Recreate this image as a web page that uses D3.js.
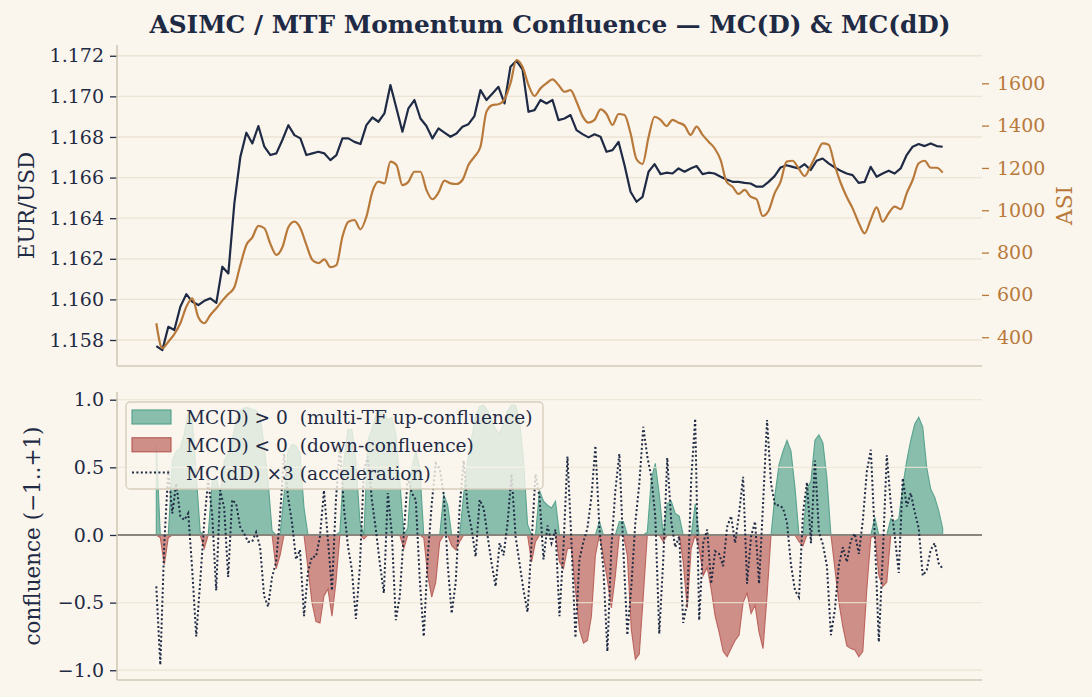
<!DOCTYPE html>
<html>
<head>
<meta charset="utf-8">
<title>ASIMC / MTF Momentum Confluence</title>
<script src="https://cdn.jsdelivr.net/npm/d3@7"></script>
<style>
  body { margin: 0; background: #faf6ee; }
  svg { display: block; font-family: "DejaVu Serif", serif; }
  .axis path.domain { display: none; }
</style>
</head>
<body>
<svg id="chart" width="1092" height="697"></svg>
<script>
// EUR/USD close (one value every ~6px)
const price = [
  1.15770, 1.15750, 1.15865, 1.15849, 1.15964, 1.16026, 1.15988, 1.15972, 1.15993, 1.16005, 1.15983,
  1.16161, 1.16128, 1.16473, 1.16702, 1.16821, 1.16768, 1.16854, 1.16752, 1.16711, 1.16719, 1.16785,
  1.16858, 1.16809, 1.16793, 1.16711, 1.16719, 1.16727, 1.16719, 1.16686, 1.16711, 1.16793, 1.16793,
  1.16776, 1.16765, 1.16858, 1.16896, 1.16875, 1.16916, 1.17056, 1.16941, 1.16826, 1.16941, 1.16982,
  1.16891, 1.16854, 1.16793, 1.16842, 1.16821, 1.16801, 1.16817, 1.16850, 1.16863, 1.16903, 1.17031,
  1.16982, 1.17014, 1.17047, 1.16965, 1.17146, 1.17175, 1.17133, 1.16924, 1.16932, 1.16982, 1.16965,
  1.16982, 1.16883, 1.16891, 1.16908, 1.16834, 1.16814, 1.16798, 1.16813, 1.16801, 1.16727, 1.16735,
  1.16776, 1.16661, 1.16530, 1.16481, 1.16505, 1.16629, 1.16666, 1.16617, 1.16624, 1.16620, 1.16645,
  1.16629, 1.16645, 1.16657, 1.16617, 1.16624, 1.16620, 1.16604, 1.16591, 1.16579, 1.16579, 1.16574,
  1.16571, 1.16555, 1.16555, 1.16579, 1.16607, 1.16650, 1.16661, 1.16653, 1.16645, 1.16666, 1.16637,
  1.16683, 1.16694, 1.16670, 1.16650, 1.16634, 1.16620, 1.16612, 1.16574, 1.16579, 1.16653, 1.16604,
  1.16620, 1.16634, 1.16620, 1.16645, 1.16711, 1.16752, 1.16765, 1.16755, 1.16768, 1.16755, 1.16752
];

// ASI (right axis), same sampling as price
const asi = [
  466, 348, 379, 415, 466, 544, 584, 494, 466, 505, 537, 573, 604, 636, 741, 836, 872, 926, 915, 841,
  789, 825, 920, 946, 915, 836, 765, 750, 768, 731, 741, 875, 946,
  954, 910, 970, 1088, 1135, 1127, 1230, 1214, 1119, 1135, 1182, 1182, 1096, 1052, 1083, 1140, 1127,
  1124, 1143, 1214, 1253, 1300, 1466, 1497, 1501, 1524, 1600, 1710, 1678, 1592, 1540, 1576, 1600,
  1619, 1592, 1560, 1568, 1513, 1445, 1414, 1427, 1477, 1455, 1403, 1455, 1450, 1364, 1241, 1219,
  1345, 1442, 1427, 1398, 1427, 1414, 1400, 1356, 1395, 1356, 1324, 1293, 1238, 1135, 1111, 1077,
  1096, 1064,
  1052, 973, 998, 1080, 1135, 1230, 1234, 1198, 1162, 1209, 1266, 1316, 1310, 1214, 1130, 1064, 1009,
  941, 891, 954, 1014, 946, 986, 1017, 1005, 1080, 1143, 1222, 1234, 1201, 1201, 1178
];

// MC(D) confluence, one value every ~4px
const mcD = [
  0.66, -0.02, -0.22, -0.02, 0.55, 0.62, 0.64, 0.75, 0.91, 0.85, 0.45, 0.02, -0.10, 0.00, 0.40, 0.43,
  0.30, 0.55, 0.60, 0.70, 0.85, 0.92, 0.94, 0.94, 0.93, 0.92, 0.88, 0.66, 0.40, 0.03, -0.25, -0.15,
  0.30, 0.62, 0.67, 0.66, 0.60, 0.20, -0.25, -0.50, -0.64, -0.65, -0.45, -0.40, -0.60, -0.35, 0.02,
  0.55, 0.78, 0.78, 0.55, 0.10, -0.03, 0.70, 0.78, 0.88, 0.92, 0.90, 0.85, 0.87, 0.75, 0.40, -0.10,
  0.05, 0.50, 0.62, 0.50, -0.02, -0.30, -0.46, -0.35, -0.05, 0.30, 0.22, -0.08, -0.11, -0.05, 0.30,
  0.55, 0.72, 0.88, 0.95, 0.96, 0.92, 0.85, 0.78, 0.75, 0.82, 0.92, 0.96, 0.96, 0.85, 0.55, 0.08,
  -0.20, -0.05, 0.33, 0.25, 0.22, 0.20, 0.25, -0.20, -0.25, -0.10, -0.10, -0.40, -0.70, -0.80, -0.78,
  -0.60, -0.15, 0.10, -0.16, -0.33, -0.54, -0.30, 0.10, 0.10, -0.15, -0.70, -0.92, -0.88, -0.45, 0.02,
  0.41, 0.53, 0.30, -0.05, 0.23, 0.25, 0.16, 0.14, -0.20, -0.54, -0.10, 0.23, -0.10, -0.30, -0.24,
  -0.40, -0.60, -0.72, -0.86, -0.90, -0.84, -0.78, -0.74, -0.50, -0.43, -0.58, -0.52, -0.72, -0.84,
  -0.45, 0.00, 0.30, 0.52, 0.62, 0.70, 0.62, 0.35, -0.05, -0.08, 0.34, 0.40, 0.70, 0.74, 0.68, 0.42,
  0.00, -0.25, -0.50, -0.68, -0.82, -0.84, -0.85, -0.90, -0.86, -0.40, -0.02, 0.13, -0.30, -0.38,
  -0.35, 0.12, 0.10, 0.12, 0.36, 0.55, 0.70, 0.82, 0.87, 0.80, 0.50, 0.34, 0.28, 0.18, 0.05
];

// MC(dD) x3 acceleration, same sampling as MC(D)
const mcdD = [
  -0.38, -0.96, -0.06, 0.48, 0.16, 0.38, 0.14, 0.11, 0.16, -0.26, -0.75, -0.34, 0.09, 0.41, 0.15,
  -0.41, 0.33, 0.20, -0.31, 0.26, 0.23, 0.06, 0.01, -0.05, -0.05, 0.02, -0.09, -0.45, -0.53, -0.31,
  -0.20, 0.14, 0.60, 0.28, 0.09, -0.18, -0.11, -0.60, -0.27, -0.16, -0.16, -0.01, 0.33, -0.04, -0.41,
  0.26, 0.66, 0.20, -0.08, -0.26, -0.62, -0.23, 0.48, 0.58, 0.26, 0.04, -0.21, -0.43, 0.31, 0.01,
  -0.63, -0.45, 0.01, 0.43, 0.31, 0.26, -0.33, -0.75, -0.16, 0.23, 0.53, 0.49, 0.30, -0.22, -0.58,
  -0.35, 0.21, 0.55, 0.20, 0.04, -0.16, 0.26, 0.20, -0.01, -0.21, -0.38, -0.06, -0.15, 0.09, 0.45,
  -0.01, -0.21, -0.41, -0.57, -0.06, 0.45, 0.28, -0.18, 0.07, -0.06, 0.04, -0.60, -0.09, 0.58, -0.05,
  -0.76, -0.18, -0.05, 0.05, 0.28, 0.66, 0.05, -0.25, -0.86, -0.09, 0.33, 0.60, -0.11, -0.74, -0.38,
  0.09, 0.38, 0.80, 0.58, 0.43, 0.14, -0.73, -0.18, 0.57, 0.10, -0.09, -0.01, -0.65, -0.50, 0.41,
  0.86, -0.63, -0.06, 0.04, -0.36, -0.12, -0.14, -0.23, 0.06, 0.14, -0.06, 0.16, 0.43, -0.36, -0.01,
  0.10, -0.36, 0.23, 0.85, 0.38, 0.22, 0.22, 0.20, 0.09, -0.22, -0.41, -0.46, 0.16, 0.39, -0.06, 0.55,
  0.02, -0.07, -0.23, -0.74, -0.55, -0.22, -0.09, -0.20, -0.04, 0.01, -0.14, 0.11, 0.47, 0.63, -0.01,
  -0.79, -0.14, 0.59, 0.23, -0.01, -0.28, 0.42, 0.21, 0.31, 0.17, 0.05, -0.30, -0.26, -0.11, -0.06,
  -0.21, -0.25
];

// tick labels
const priceTicks = [1.158, 1.160, 1.162, 1.164, 1.166, 1.168, 1.170, 1.172];
const asiTicks = [400, 600, 800, 1000, 1200, 1400, 1600];
const mcTicks = [-1.0, -0.5, 0.0, 0.5, 1.0];

const legendItems = [
  ["area", "pos", "MC(D) > 0  (multi-TF up-confluence)"],
  ["area", "neg", "MC(D) < 0  (down-confluence)"],
  ["line", "dd", "MC(dD) \u00d73 (acceleration)"]
];

// colours
const bg = "#faf6ee";
const navy = "#1f2a44";
const orange = "#b8793a";
const gridCol = "#ece4d4";
const spineCol = "#d2c8b6";
const teal = "#4f9f8a";
const red = "#b5554f";

const svg = d3.select("#chart");
svg.append("rect").attr("width", 1092).attr("height", 697).attr("fill", bg);

// panel boxes
const left = 117, right = 982;
const top1 = { top: 45, bottom: 366 };
const top2 = { top: 392, bottom: 680 };

// title
svg.append("text")
  .attr("x", (left + right) / 2 + 0.5)
  .attr("y", 33)
  .attr("text-anchor", "middle")
  .attr("font-size", 24.8)
  .attr("font-weight", "bold")
  .attr("fill", navy)
  .text("ASIMC / MTF Momentum Confluence \u2014 MC(D) & MC(dD)");

// x scales with matplotlib-like 5% margins
function xScale(n) {
  const pad = (n - 1) * 0.05;
  return d3.scaleLinear().domain([-pad, n - 1 + pad]).range([left, right]);
}
const xTop = xScale(price.length);
const xBot = xScale(mcD.length);

// ---------- top panel ----------
const yPrice = d3.scaleLinear().domain([1.15672, 1.17253]).range([top1.bottom, top1.top]);
const yAsi = d3.scaleLinear().domain([264, 1781]).range([top1.bottom, top1.top]);

const g1 = svg.append("g");
g1.selectAll(".grid")
  .data(priceTicks)
  .join("line")
    .attr("x1", left).attr("x2", right)
    .attr("y1", d => yPrice(d)).attr("y2", d => yPrice(d))
    .attr("stroke", gridCol).attr("stroke-width", 1.3);

g1.append("path")
  .datum(price)
  .attr("fill", "none")
  .attr("stroke", navy)
  .attr("stroke-width", 2.2)
  .attr("stroke-linejoin", "round")
  .attr("d", d3.line().x((d, i) => xTop(i)).y(d => yPrice(d)));

g1.append("path")
  .datum(asi)
  .attr("fill", "none")
  .attr("stroke", orange)
  .attr("stroke-width", 2.2)
  .attr("stroke-linejoin", "round")
  .attr("d", d3.line().x((d, i) => xTop(i)).y(d => yAsi(d)).curve(d3.curveMonotoneX));

g1.append("g")
  .attr("class", "axis")
  .attr("transform", "translate(" + left + ",0)")
  .call(d3.axisLeft(yPrice).tickValues(priceTicks).tickFormat(d3.format(".3f")).tickSize(7).tickPadding(6))
  .call(g => g.selectAll("line").attr("stroke", navy).attr("stroke-width", 1.3))
  .call(g => g.selectAll("text").attr("fill", navy).attr("font-size", 19).attr("font-family", "DejaVu Serif"));

g1.append("g")
  .attr("class", "axis")
  .attr("transform", "translate(" + right + ",0)")
  .call(d3.axisRight(yAsi).tickValues(asiTicks).tickFormat(d3.format("d")).tickSize(7).tickPadding(8))
  .call(g => g.selectAll("line").attr("stroke", orange).attr("stroke-width", 1.3))
  .call(g => g.selectAll("text").attr("fill", orange).attr("font-size", 19).attr("font-family", "DejaVu Serif"));

g1.append("line").attr("x1", left).attr("x2", left).attr("y1", top1.top).attr("y2", top1.bottom)
  .attr("stroke", spineCol).attr("stroke-width", 1.6);
g1.append("line").attr("x1", left).attr("x2", right).attr("y1", top1.bottom).attr("y2", top1.bottom)
  .attr("stroke", spineCol).attr("stroke-width", 1.6);

g1.append("text")
  .attr("transform", "translate(26," + (top1.top + top1.bottom) / 2 + ") rotate(-90)")
  .attr("text-anchor", "middle")
  .attr("dominant-baseline", "central")
  .attr("font-size", 21.5)
  .attr("fill", navy)
  .text("EUR/USD");

g1.append("text")
  .attr("transform", "translate(1064," + (top1.top + top1.bottom) / 2 + ") rotate(-90)")
  .attr("text-anchor", "middle")
  .attr("dominant-baseline", "central")
  .attr("font-size", 21.5)
  .attr("fill", orange)
  .text("ASI");

// ---------- bottom panel ----------
const yMc = d3.scaleLinear().domain([-1.072, 1.057]).range([top2.bottom, top2.top]);
const g2 = svg.append("g");

const posArea = d3.area().x((d, i) => xBot(i)).y0(yMc(0)).y1(d => yMc(Math.max(d, 0)));
const negArea = d3.area().x((d, i) => xBot(i)).y0(yMc(0)).y1(d => yMc(Math.min(d, 0)));

g2.append("path").datum(mcD).attr("d", posArea)
  .attr("fill", teal).attr("fill-opacity", 0.66)
  .attr("stroke", teal).attr("stroke-opacity", 0.9).attr("stroke-width", 1.1);
g2.append("path").datum(mcD).attr("d", negArea)
  .attr("fill", red).attr("fill-opacity", 0.64)
  .attr("stroke", red).attr("stroke-opacity", 0.85).attr("stroke-width", 1.1);

g2.selectAll(".grid")
  .data(mcTicks.filter(d => d !== 0))
  .join("line")
    .attr("x1", left).attr("x2", right)
    .attr("y1", d => yMc(d)).attr("y2", d => yMc(d))
    .attr("stroke", gridCol).attr("stroke-width", 1.3).attr("stroke-opacity", 0.85);

g2.append("line")
  .attr("x1", left).attr("x2", right)
  .attr("y1", yMc(0)).attr("y2", yMc(0))
  .attr("stroke", "#8b867d").attr("stroke-width", 2);

g2.append("path")
  .datum(mcdD)
  .attr("fill", "none")
  .attr("stroke", navy)
  .attr("stroke-width", 2)
  .attr("stroke-dasharray", "2,2.4")
  .attr("d", d3.line().x((d, i) => xBot(i)).y(d => yMc(d)));

g2.append("g")
  .attr("class", "axis")
  .attr("transform", "translate(" + left + ",0)")
  .call(d3.axisLeft(yMc).tickValues(mcTicks).tickFormat(d3.format(".1f")).tickSize(7).tickPadding(6))
  .call(g => g.selectAll("line").attr("stroke", navy).attr("stroke-width", 1.3))
  .call(g => g.selectAll("text").attr("fill", navy).attr("font-size", 19).attr("font-family", "DejaVu Serif"));

g2.append("line").attr("x1", left).attr("x2", left).attr("y1", top2.top).attr("y2", top2.bottom)
  .attr("stroke", spineCol).attr("stroke-width", 1.6);
g2.append("line").attr("x1", left).attr("x2", right).attr("y1", top2.bottom).attr("y2", top2.bottom)
  .attr("stroke", spineCol).attr("stroke-width", 1.6);

g2.append("text")
  .attr("transform", "translate(32," + (top2.top + top2.bottom) / 2 + ") rotate(-90)")
  .attr("text-anchor", "middle")
  .attr("dominant-baseline", "central")
  .attr("font-size", 21.5)
  .attr("fill", navy)
  .text("confluence (\u22121..+1)");

// legend
const legend = g2.append("g").attr("transform", "translate(126,402)");
legend.append("rect")
  .attr("width", 417).attr("height", 87).attr("rx", 4)
  .attr("fill", bg).attr("fill-opacity", 0.8)
  .attr("stroke", "#d6cdbb").attr("stroke-width", 1.3);

const rows = legend.selectAll(".row")
  .data(legendItems)
  .join("g")
    .attr("transform", (d, i) => "translate(0," + (15 + i * 27.8) + ")");

rows.filter(d => d[0] == "area")
  .append("rect")
    .attr("x", 6).attr("y", -7).attr("width", 39).attr("height", 14)
    .attr("fill", d => d[1] == "pos" ? teal : red)
    .attr("fill-opacity", d => d[1] == "pos" ? 0.66 : 0.64)
    .attr("stroke", d => d[1] == "pos" ? teal : red)
    .attr("stroke-width", 1.1);
rows.filter(d => d[0] == "line")
  .append("line")
    .attr("x1", 6).attr("x2", 45).attr("y1", 0).attr("y2", 0)
    .attr("stroke", navy).attr("stroke-width", 2).attr("stroke-dasharray", "2,2.4");
rows.append("text")
  .attr("x", 60)
  .attr("y", 7)
  .attr("font-size", 18.6)
  .attr("fill", navy)
  .style("white-space", "pre")
  .text(d => d[2]);
</script>
</body>
</html>
